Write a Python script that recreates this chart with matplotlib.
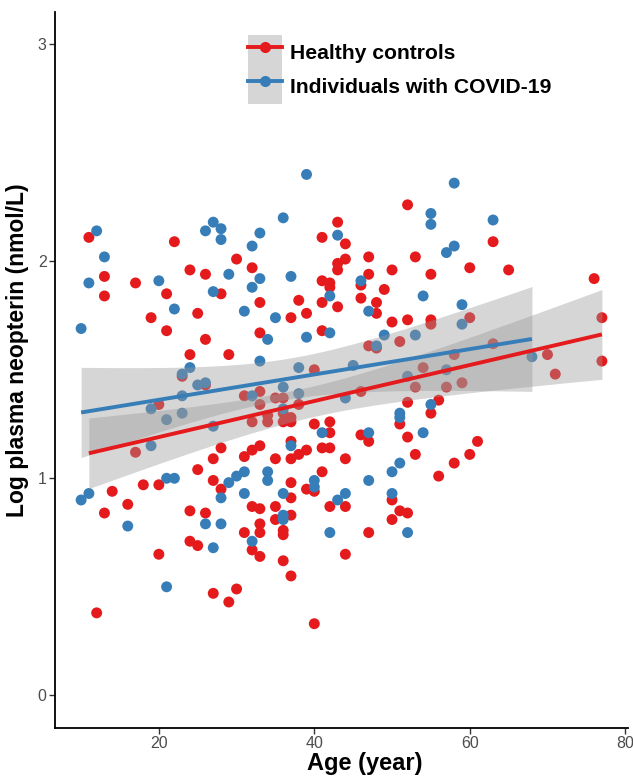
import numpy as np
import matplotlib
matplotlib.use("Agg")
from matplotlib import pyplot as plt
from matplotlib.lines import Line2D
from matplotlib.patches import Patch

plt.rcParams["font.family"] = ["Liberation Sans", "DejaVu Sans"]

# Healthy controls: (age, log neopterin)
healthy_age = [
    11, 13, 13, 17, 21, 19, 25, 22, 24, 26, 21, 43, 41, 44, 30, 44, 43, 43, 32, 41,
    42, 42, 28, 33, 38, 41, 43, 37, 39, 52, 63, 47, 53, 50, 55, 60, 47, 46, 49, 46,
    48, 48, 50, 52, 55, 55, 60, 65, 76, 77,
    26, 24, 23, 26, 20, 17, 25, 18, 20, 14, 33, 41, 29, 40, 31, 33, 35, 36, 33, 38,
    34, 36, 37, 32, 34, 36, 37, 40, 42, 42, 37, 41, 42, 28, 32, 33, 27, 31, 35, 37,
    38, 39, 44, 27, 37, 41, 39, 28, 47, 48, 51, 63, 54, 58, 46, 53, 57, 59, 52, 56,
    55, 51, 46, 47, 52, 61, 60, 53, 58, 56, 70, 71, 77,
    16, 13, 24, 26, 24, 25, 20, 12, 37, 40, 32, 33, 35, 42, 44, 37, 35, 33, 31, 33,
    36, 36, 32, 33, 36, 37, 44, 27, 30, 29, 40, 50, 51, 52, 50, 47,
]
healthy_neo = [
    2.11, 1.93, 1.84, 1.90, 1.85, 1.74, 1.76, 2.09, 1.96, 1.94, 1.68, 2.18, 2.11, 2.08, 2.01, 2.01, 1.99, 1.96, 1.97, 1.91,
    1.90, 1.88, 1.85, 1.81, 1.82, 1.81, 1.79, 1.74, 1.76, 2.26, 2.09, 2.02, 2.02, 1.96, 1.94, 1.97, 1.94, 1.89, 1.87, 1.83,
    1.81, 1.76, 1.72, 1.73, 1.73, 1.71, 1.74, 1.96, 1.92, 1.74,
    1.64, 1.57, 1.47, 1.43, 1.34, 1.12, 1.04, 0.97, 0.97, 0.94, 1.67, 1.68, 1.57, 1.50, 1.38, 1.40, 1.37, 1.37, 1.34, 1.34,
    1.29, 1.30, 1.28, 1.26, 1.26, 1.26, 1.26, 1.25, 1.26, 1.21, 1.17, 1.14, 1.14, 1.14, 1.13, 1.15, 1.09, 1.10, 1.09, 1.09,
    1.11, 1.13, 1.09, 0.99, 0.98, 1.03, 0.95, 0.95, 1.61, 1.60, 1.63, 1.62, 1.51, 1.57, 1.40, 1.42, 1.42, 1.44, 1.35, 1.36,
    1.30, 1.25, 1.20, 1.17, 1.19, 1.17, 1.11, 1.11, 1.07, 1.01, 1.57, 1.48, 1.54,
    0.88, 0.84, 0.85, 0.84, 0.71, 0.69, 0.65, 0.38, 0.91, 0.94, 0.87, 0.86, 0.87, 0.87, 0.87, 0.83, 0.81, 0.79, 0.75, 0.75,
    0.76, 0.74, 0.67, 0.64, 0.62, 0.55, 0.65, 0.47, 0.49, 0.43, 0.33, 0.90, 0.85, 0.84, 0.81, 0.75,
]

# Individuals with COVID-19
covid_age = [
    12, 13, 11, 20, 22, 26, 10, 39, 36, 27, 28, 28, 33, 32, 43, 29, 33, 32, 37, 42,
    27, 31, 35, 58, 55, 55, 63, 58, 57, 46, 54, 47, 59, 59,
    24, 23, 25, 26, 23, 19, 21, 23, 19, 21, 22, 11, 10, 16, 26, 21, 28, 31, 36, 43,
    44, 36, 36, 28, 42, 32, 27, 50, 52,
    34, 39, 42, 33, 38, 45, 36, 32, 38, 36, 27, 41, 37, 31, 30, 29, 34, 34, 40, 40,
    49, 53, 48, 52, 57, 44, 55, 51, 51, 47, 54, 51, 50, 47, 68,
]
covid_neo = [
    2.14, 2.02, 1.90, 1.91, 1.78, 2.14, 1.69, 2.40, 2.20, 2.18, 2.15, 2.10, 2.13, 2.07, 2.12, 1.94, 1.92, 1.88, 1.93, 1.84,
    1.86, 1.77, 1.74, 2.36, 2.22, 2.17, 2.19, 2.07, 2.04, 1.91, 1.84, 1.77, 1.80, 1.71,
    1.51, 1.48, 1.43, 1.44, 1.38, 1.32, 1.27, 1.30, 1.15, 1.00, 1.00, 0.93, 0.90, 0.78, 0.79, 0.50, 0.91, 0.93, 0.93, 0.90,
    0.93, 0.83, 0.81, 0.79, 0.75, 0.71, 0.68, 0.93, 0.75,
    1.64, 1.65, 1.67, 1.54, 1.51, 1.52, 1.42, 1.38, 1.39, 1.32, 1.24, 1.21, 1.15, 1.03, 1.01, 0.98, 1.03, 0.99, 0.99, 0.96,
    1.66, 1.66, 1.61, 1.47, 1.50, 1.37, 1.34, 1.30, 1.28, 1.21, 1.21, 1.07, 1.03, 0.99, 1.56,
]

groups = ["Healthy controls", "Individuals with COVID-19"]
colors = ["#E41A1C", "#377EB8"]


def lm_band(x, y, n_grid=80):
    x = np.asarray(x, float)
    y = np.asarray(y, float)
    b, a = np.polyfit(x, y, 1)
    xs = np.linspace(x.min(), x.max(), n_grid)
    fit = a + b * xs
    resid = y - (a + b * x)
    n = len(x)
    s = np.sqrt(np.sum(resid ** 2) / (n - 2))
    sxx = np.sum((x - x.mean()) ** 2)
    se = s * np.sqrt(1 / n + (xs - x.mean()) ** 2 / sxx)
    t = 1.975  # approx 97.5% t quantile for df > 90
    return xs, fit, fit - t * se, fit + t * se


fig = plt.figure(figsize=(6.33, 7.76), dpi=100)
ax = fig.add_axes([0.087, 0.062, 0.905, 0.923])

data = [(healthy_age, healthy_neo), (covid_age, covid_neo)]
for (xa, ya), c in zip(data, colors):
    ax.scatter(xa, ya, s=62, color=c, edgecolors="none", zorder=2)

for (xa, ya), c in zip(data, colors):
    xs, fit, lo, hi = lm_band(xa, ya)
    ax.fill_between(xs, lo, hi, color="#999999", alpha=0.4, linewidth=0, zorder=3)
    ax.plot(xs, fit, color=c, lw=2.8, zorder=4, solid_capstyle="butt")

ax.set_xlim(6.65, 80.35)
ax.set_ylim(-0.15, 3.15)
ax.set_xticks([20, 40, 60, 80])
ax.set_yticks([0, 1, 2, 3])
for side in ["top", "right"]:
    ax.spines[side].set_visible(False)
for side in ["left", "bottom"]:
    ax.spines[side].set_linewidth(1.3)
    ax.spines[side].set_color("black")
ax.tick_params(axis="both", length=4, width=1, color="#333333",
               labelsize=11.5, labelcolor="#4D4D4D", pad=2)

ax.set_xlabel("Age (year)", fontsize=17, fontweight="bold")
ax.set_ylabel("Log plasma neopterin (nmol/L)", fontsize=16.5, fontweight="bold")
ax.xaxis.set_label_coords(0.541, -0.034)
ax.yaxis.set_label_coords(-0.045, 0.527)

handles = []
for c in colors:
    handles.append((Patch(facecolor="#999999", alpha=0.4, edgecolor="none"),
                    Line2D([], [], color=c, lw=2.8, marker="o", markersize=8,
                           markeredgecolor="none")))
leg = ax.legend(handles, groups, loc="upper left", bbox_to_anchor=(0.337, 0.968),
                frameon=False, handlelength=1.6, handleheight=2.15, handletextpad=0.38,
                labelspacing=0.0, borderaxespad=0, borderpad=0,
                prop={"weight": "bold", "size": 15.2, "family": "Liberation Sans"})

fig.savefig("out.png", dpi=100)
